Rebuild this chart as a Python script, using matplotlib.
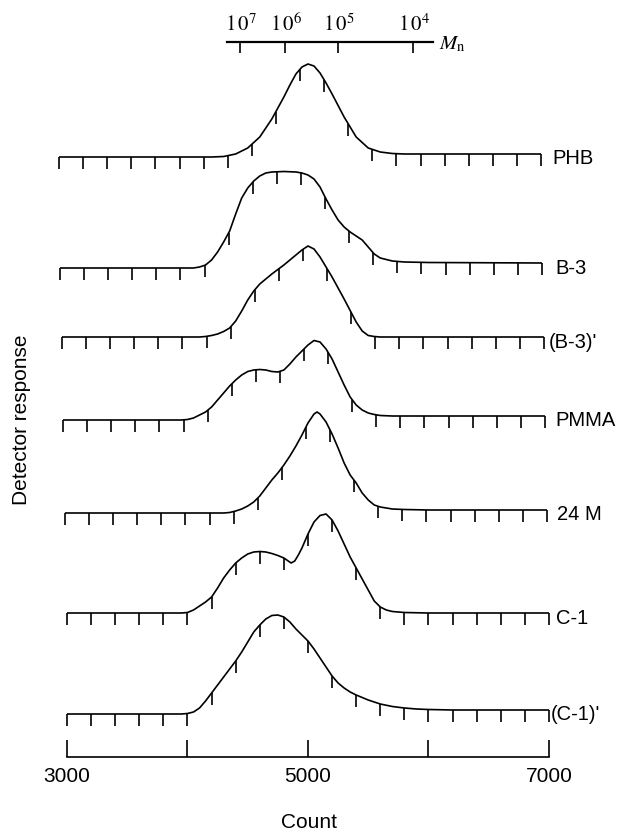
import matplotlib.pyplot as plt
import numpy as np

plt.rcParams['font.family'] = ['Liberation Sans', 'DejaVu Sans']
plt.rcParams['mathtext.fontset'] = 'stix'

# samples, top to bottom
names = ['PHB', 'B-3', "(B-3)'", 'PMMA', '24 M', 'C-1', "(C-1)'"]
# count at the first tick mark of every trace (marks every 200 counts)
starts = [2934, 2942, 2958, 2967, 2983, 3000, 3000]

# detector response (count, response)
phb_c = [2934, 4200, 4300, 4400, 4500, 4600, 4700, 4800, 4850, 4900, 4950, 5000, 5050, 5100,
         5150, 5200, 5300, 5400, 5500, 5600, 5700, 5800, 6000, 6934]
phb_r = [0, 0, 0.5, 3, 9, 20, 38, 60, 72, 83, 90, 93, 91, 84, 74, 63, 40, 20, 9, 5, 3.5, 3,
         3, 3]

b3_c = [2942, 4050, 4100, 4150, 4200, 4250, 4300, 4350, 4400, 4450, 4500, 4550, 4600, 4650,
        4700, 4800, 4900, 4950, 5000, 5050, 5100, 5150, 5200, 5250, 5300, 5350, 5400, 5450,
        5500, 5550, 5600, 5700, 5800, 6000, 6942]
b3_r = [0, 0, 1, 3, 8, 16, 26, 37, 54, 70, 80, 87, 92, 95, 96, 96.5, 96, 95, 93, 89, 81, 69,
        58, 48, 41, 36, 32, 28, 21, 14, 10, 7, 6, 5.5, 5]

b3p_c = [2958, 4100, 4150, 4200, 4250, 4300, 4350, 4400, 4450, 4500, 4550, 4600, 4700, 4800,
         4900, 4950, 5000, 5050, 5100, 5200, 5300, 5400, 5450, 5500, 5550, 5600, 6958]
b3p_r = [0, 0, 0.5, 1.5, 3, 5.5, 9, 16, 26, 37, 46, 53, 63, 72, 82, 87, 91, 88, 80, 60, 38,
         15, 6, 1.5, 0.5, 0, 0]

pmma_c = [2967, 3950, 4000, 4050, 4100, 4150, 4200, 4250, 4300, 4350, 4400, 4450, 4500, 4550,
          4600, 4650, 4700, 4750, 4800, 4850, 4900, 4950, 5000, 5050, 5100, 5150, 5200, 5250,
          5300, 5350, 5400, 5450, 5500, 5550, 5600, 5700, 5800, 6000, 6967]
pmma_r = [0, 0, 0.5, 2, 5, 8, 13, 20, 27, 34, 40, 45, 48.5, 50, 50.5, 50, 48.5, 48, 50, 56,
          63, 69, 75, 79.5, 78, 71, 61, 48, 35, 23, 15, 10, 7, 5.5, 4.5, 4, 4, 4, 4]

m24_c = [2983, 4300, 4350, 4400, 4450, 4500, 4550, 4600, 4650, 4700, 4750, 4800, 4850, 4900,
         4950, 5000, 5050, 5075, 5100, 5150, 5200, 5250, 5300, 5350, 5400, 5450, 5500, 5550,
         5600, 5700, 5800, 6000, 6983]
m24_r = [0, 0, 0.5, 2, 4, 7, 11, 17, 25, 33, 40, 48, 57, 67, 78, 90, 99, 101, 99, 91, 79, 65,
         50, 38, 30, 20, 13, 8, 6, 4, 3.5, 3, 3]

c1_c = [3000, 3950, 4000, 4050, 4100, 4150, 4200, 4250, 4300, 4350, 4400, 4450, 4500, 4550,
        4600, 4650, 4700, 4750, 4800, 4830, 4860, 4890, 4920, 4950, 5000, 5050, 5100, 5150,
        5200, 5250, 5300, 5350, 5400, 5450, 5500, 5550, 5600, 5650, 5700, 5800, 6000, 7000]
c1_r = [0, 0, 0.5, 3, 7, 11, 16, 25, 35, 43, 50, 55, 59, 61, 61.5, 61, 59.5, 57.5, 55, 52.5,
        50, 52, 58, 65, 79, 91, 97.5, 99, 93, 82, 69, 56, 45, 34, 23, 12, 6, 3, 1.5, 0.5, 0, 0]

c1p_c = [3000, 3950, 4000, 4050, 4100, 4150, 4200, 4250, 4300, 4350, 4400, 4450, 4500, 4550,
         4600, 4650, 4700, 4750, 4800, 4850, 4900, 4950, 5000, 5050, 5100, 5150, 5200, 5250,
         5300, 5350, 5400, 5500, 5600, 5700, 5800, 5900, 6000, 6200, 7000]
c1p_r = [0, 0, 0.5, 2, 6, 13, 21, 29, 37, 45, 53, 62, 72, 82, 89, 95, 98.5, 99, 97, 92, 85,
         79, 73, 65, 56, 47, 38, 31, 26, 22, 19, 14, 10, 7.5, 6, 5, 4.5, 4, 4]

counts = [phb_c, b3_c, b3p_c, pmma_c, m24_c, c1_c, c1p_c]
responses = [phb_r, b3_r, b3p_r, pmma_r, m24_r, c1_r, c1p_r]

# molecular weight calibration (count where Mn = 10^k)
mn_exp = [7, 6, 5, 4]
mn_count = [4436, 4809, 5249, 5871]

count_ticks = [3000, 4000, 5000, 6000, 7000]
count_labels = ['3000', '', '5000', '', '7000']

# layout (pixel rows of each trace baseline, gap before each name in counts)
base_px = [157, 268, 337, 420, 513, 613, 714]
name_gap = [95, 110, 40, 90, 85, 55, 15]
tick_len = 12
lw = 1.2

fig = plt.figure(figsize=(6.18, 8.32), dpi=100)
ax = fig.add_axes([0, 75 / 832, 1, 757 / 832])
ax.set_xlim(2444, 7573)
ax.set_ylim(757, 0)

for name, s, c, r, b, g in zip(names, starts, counts, responses, base_px, name_gap):
    c = np.array(c, dtype=float)
    y = b - np.array(r, dtype=float)
    ax.plot(c, y, color='black', lw=lw, solid_capstyle='butt')
    tc = s + 200 * np.arange(21)
    ty = np.interp(tc, c, y)
    ax.vlines(tc, ty, ty + tick_len, color='black', lw=lw)
    ax.text(tc[-1] + g, ty[-1] + 5, name, fontsize=14.5, va='center', ha='left')

# Mn scale on top
ax.plot([4328, 6037], [42, 42], color='black', lw=1.6)
ax.vlines(mn_count, 42, 53, color='black', lw=1.2)
for e, mc in zip(mn_exp, mn_count):
    ax.text(mc + 10, 31, r'$1\,0^{%d}$' % e, fontsize=15, ha='center', va='baseline')
ax.text(6090, 44, r'$M_{\mathrm{n}}$', fontsize=15, ha='left', va='center')

# count axis at the bottom
for side in ['top', 'left', 'right']:
    ax.spines[side].set_visible(False)
ax.spines['bottom'].set_bounds(3000, 7000)
ax.spines['bottom'].set_linewidth(1.2)
ax.set_xticks(count_ticks, count_labels)
ax.set_yticks([])
ax.tick_params(axis='x', direction='in', length=12, width=1.2, pad=7, labelsize=15)
ax.set_xlabel('Count', fontsize=15, labelpad=20)
ax.patch.set_visible(False)

fig.text(22 / 618, 1 - 420 / 832, 'Detector response', rotation=90, fontsize=15,
         ha='center', va='center')

fig.savefig('out.png', dpi=100)
